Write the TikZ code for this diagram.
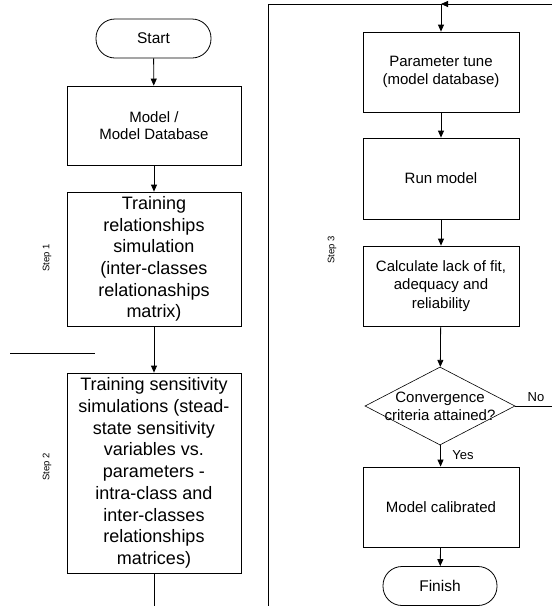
\documentclass[tikz,border=0pt]{standalone}
\usepackage{fontspec}
\setmainfont{Liberation Sans}
\usetikzlibrary{shapes.geometric, arrows.meta}

\begin{document}
\begin{tikzpicture}[->,>={Triangle[length=7pt,width=6pt]},x=1pt,y=-1pt,line width=0.8pt,
	term/.style={draw, rounded corners=19pt, minimum width=115pt, minimum height=39pt, font=\fontsize{15.5}{18}\selectfont},
	bigbox/.style={align=center, draw, minimum width=174pt, inner sep=1pt, font=\fontsize{18}{21.7}\selectfont},
	rbox/.style={align=center, draw, minimum width=156pt, inner sep=1pt, font=\fontsize{15}{18.5}\selectfont},
	decision/.style={diamond, draw, line width=0.6pt, minimum width=150pt, minimum height=78pt, inner sep=0pt},
	steplabel/.style={rotate=90, font=\fontsize{9.5}{11}\selectfont},
	answer/.style={font=\fontsize{13}{15}\selectfont}]
			\useasboundingbox (0,0) rectangle (552,606);
			\clip (0,0) rectangle (552,606);
			% left column
			\node[term] at (153.5, 38.5) (start) {Start};
			\node[bigbox, minimum height=79pt, font=\fontsize{15}{17}\selectfont] at (154, 125.5) (model) {Model /\\Model Database};
			\node[bigbox, minimum height=134pt] at (154, 259) (relsim) {Training\\relationships\\simulation\\(inter-classes\\relationaships\\matrix)};
			\node[bigbox, minimum height=200pt] at (154, 473) (senssim) {Training sensitivity\\simulations (stead-\\state sensitivity\\variables vs.\\parameters -\\intra-class and\\inter-classes\\relationships\\matrices)};
			\coordinate (sensend) at (154, 612);
			\node[steplabel] at (47, 258) (step1) {Step 1};
			\node[steplabel] at (47, 467) (step2) {Step 2};
			\draw[-] (10, 353) -- (95, 353);
			% right column
			\coordinate (junc) at (441, 4);
			\coordinate (frameb) at (268, 612);
			\coordinate (loopr) at (562, 406);
			\node[rbox, minimum height=80pt] at (441, 72) (tune) {Parameter tune\\(model database)};
			\node[rbox, minimum height=81pt] at (441, 178.5) (run) {Run model};
			\node[rbox, minimum height=80pt] at (441, 286) (fit) {Calculate lack of fit,\\adequacy and\\reliability};
			\node[decision] at (440, 406) (conv) {};
			\node[align=center, font=\fontsize{15}{18}\selectfont] at (440, 406) (convtext) {Convergence\\criteria attained?};
			\node[rbox, minimum height=80pt] at (441, 507) (calib) {Model calibrated};
			\node[term, minimum width=114pt] at (440, 586) (finish) {Finish};
			\node[steplabel] at (332, 250) (step3) {Step 3};
			\node[answer] at (463, 455) (yes) {Yes};
			\node[answer] at (536, 397) (no) {No};

			\draw (start) -- (model);
			\draw (model) -- (relsim);
			\draw (relsim) -- (senssim);
			\draw[-] (senssim) -- (sensend);
			\draw[-] (frameb) |- (junc);
			\draw (conv.east) -- (loopr) |- (junc);
			\draw (junc) -- (tune);
			\draw (tune) -- (run);
			\draw (run) -- (fit);
			\draw (fit) -- (conv);
			\draw (conv) -- (calib);
			\draw (calib) -- (finish);
		\end{tikzpicture}
\end{document}
